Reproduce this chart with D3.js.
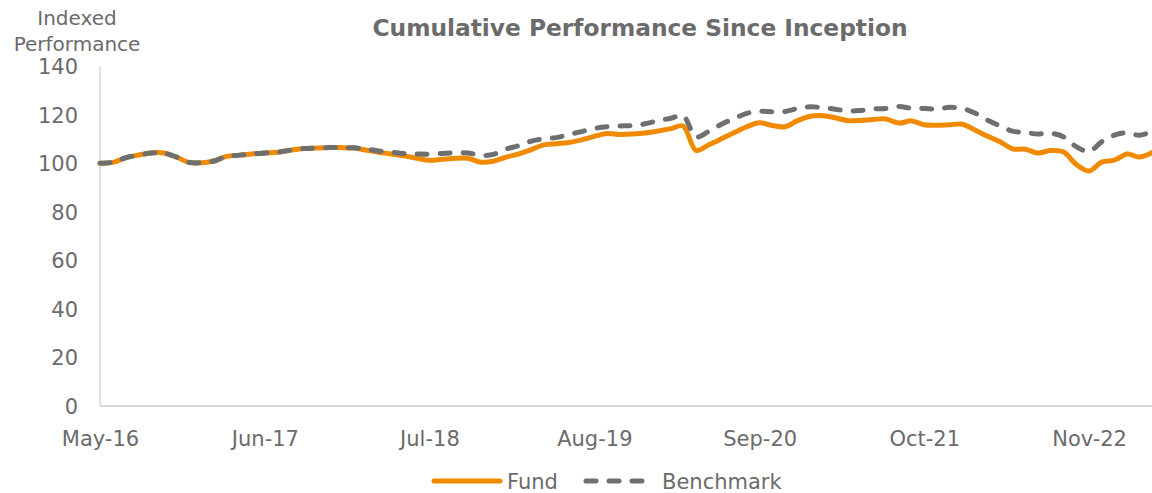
<!DOCTYPE html>
<html>
<head>
<meta charset="utf-8">
<script src="https://cdn.jsdelivr.net/npm/d3@7"></script>
<style>
  html, body { margin: 0; padding: 0; background: #fff; }
  svg { display: block; }
  text { font-family: "DejaVu Sans", sans-serif; fill: #6b6b6b; }
</style>
</head>
<body>
<svg id="chart" width="1152" height="493"></svg>
<script>
// ---- data ----
const startMonth = new Date(2016, 4, 1); // May-16
const endMonth = new Date(2023, 3, 1);   // Apr-23

const fund = [
  100, 100.3, 102.2, 103.3, 104.2, 104.2, 102.5, 100.3, 100.2, 101,
  102.8, 103.3, 103.8, 104.2, 104.5, 105.3, 106, 106.2, 106.4, 106.4,
  106.2, 105.3, 104.5, 103.8, 103, 102, 101.2, 101.6, 102, 102,
  100.4, 100.8, 102.5, 103.8, 105.5, 107.5, 108, 108.5, 109.6, 111,
  112.2, 111.8, 112, 112.4, 113.2, 114.2, 115.3, 105.3, 107.5, 110,
  112.5, 115, 116.6, 115.5, 115, 117.5, 119.3, 119.5, 118.7, 117.5,
  117.6, 118, 118.2, 116.5, 117.4, 115.8, 115.6, 115.8, 116, 113.5,
  111.2, 108.8, 105.9, 105.7, 104.2, 105.2, 104.6, 99.5, 96.8, 100.4,
  101.2, 103.8, 102.5, 104.3
];

const benchmark = [
  100, 100.3, 102.2, 103.3, 104.2, 104.2, 102.5, 100.3, 100.2, 101,
  102.8, 103.3, 103.8, 104.2, 104.5, 105.3, 106, 106.2, 106.4, 106.4,
  106.3, 105.8, 105, 104.5, 104, 103.8, 103.7, 104, 104.3, 104.2,
  103.2, 103.6, 105.8, 107.2, 109, 110, 110.5, 111.8, 113, 114.3,
  115, 115.3, 115.5, 116.2, 117.5, 118.5, 119.5, 110.8, 113, 116,
  118.3, 120.5, 121.3, 121.2, 121.3, 122.5, 123.2, 122.8, 122.2, 121.5,
  121.7, 122.3, 122.5, 123.3, 122.6, 122.5, 122.3, 123, 122.5, 120.5,
  117.8, 115.3, 113.2, 112.6, 112, 112.3, 110.8, 106.8, 104.8, 108.8,
  111.5, 112.5, 111.5, 113
];

const yTicks = [0, 20, 40, 60, 80, 100, 120, 140];
const xTickLabels = ["May-16", "Jun-17", "Jul-18", "Aug-19", "Sep-20", "Oct-21", "Nov-22"];
const xTickDates = [new Date(2016,4,1), new Date(2017,5,1), new Date(2018,6,1), new Date(2019,7,1),
                    new Date(2020,8,1), new Date(2021,9,1), new Date(2022,10,1)];

const title = "Cumulative Performance Since Inception";
const yTitle = ["Indexed", "Performance"];
const seriesNames = ["Fund", "Benchmark"];
const colors = { fund: "#F08A00", bench: "#6E6F71" };

// ---- chart ----
const svg = d3.select("#chart");
const months = d3.timeMonth.range(startMonth, d3.timeMonth.offset(endMonth, 1));

const x = d3.scaleTime().domain([startMonth, endMonth]).range([100, 1152]);
const y = d3.scaleLinear().domain([0, 140]).range([406, 66]);

// axis lines
svg.append("line").attr("x1", 100).attr("x2", 100).attr("y1", y(140)).attr("y2", y(0))
  .attr("stroke", "#d9d9d9").attr("stroke-width", 1.5);
svg.append("line").attr("x1", 100).attr("x2", 1152).attr("y1", y(0)).attr("y2", y(0))
  .attr("stroke", "#d9d9d9").attr("stroke-width", 2);

// y axis labels
const yAxis = d3.axisLeft(y).tickValues(yTicks).tickSize(0).tickPadding(0).tickFormat(d3.format("d"));
const gy = svg.append("g").attr("transform", "translate(78,0)").call(yAxis);
gy.select(".domain").remove();
gy.selectAll("text").attr("font-size", 21).attr("fill", "#6b6b6b")
  .attr("font-family", "DejaVu Sans, sans-serif").attr("dy", "0.36em");

// x axis labels
const xAxis = d3.axisBottom(x).tickValues(xTickDates).tickSize(0).tickPadding(0)
  .tickFormat((d, i) => xTickLabels[i]);
const gx = svg.append("g").attr("transform", "translate(0,438)").call(xAxis);
gx.select(".domain").remove();
gx.selectAll("text").attr("font-size", 21).attr("fill", "#6b6b6b")
  .attr("font-family", "DejaVu Sans, sans-serif").attr("dy", "0.36em");

// lines
const line = d3.line().x((d, i) => x(months[i])).y(d => y(d)).curve(d3.curveCatmullRom.alpha(0.5));

svg.append("path").datum(fund).attr("d", line)
  .attr("fill", "none").attr("stroke", colors.fund).attr("stroke-width", 5)
  .attr("stroke-linejoin", "round").attr("stroke-linecap", "round");

svg.append("path").datum(benchmark).attr("d", line)
  .attr("fill", "none").attr("stroke", colors.bench).attr("stroke-width", 5)
  .attr("stroke-dasharray", "10,13").attr("stroke-linecap", "round");

// title
svg.append("text").attr("x", 640).attr("y", 36).attr("text-anchor", "middle")
  .attr("font-family", "Open Sans, sans-serif").attr("font-weight", "bold")
  .attr("font-size", 23.3).attr("fill", "#6b6b6b").text(title);

// y title
svg.append("text").attr("x", 77).attr("y", 25).attr("text-anchor", "middle")
  .attr("font-size", 20).attr("fill", "#757575").text(yTitle[0]);
svg.append("text").attr("x", 77).attr("y", 51).attr("text-anchor", "middle")
  .attr("font-size", 20).attr("fill", "#757575").text(yTitle[1]);

// legend
const lg = svg.append("g");
lg.append("line").attr("x1", 434).attr("x2", 500).attr("y1", 481).attr("y2", 481)
  .attr("stroke", colors.fund).attr("stroke-width", 5).attr("stroke-linecap", "round");
lg.append("text").attr("x", 507).attr("y", 481).attr("dy", "0.36em")
  .attr("font-size", 21).attr("fill", "#6b6b6b").text(seriesNames[0]);
lg.append("line").attr("x1", 586).attr("x2", 650).attr("y1", 481).attr("y2", 481)
  .attr("stroke", colors.bench).attr("stroke-width", 5).attr("stroke-linecap", "round")
  .attr("stroke-dasharray", "10,13");
lg.append("text").attr("x", 662).attr("y", 481).attr("dy", "0.36em")
  .attr("font-size", 21).attr("fill", "#6b6b6b").text(seriesNames[1]);
</script>
</body>
</html>
